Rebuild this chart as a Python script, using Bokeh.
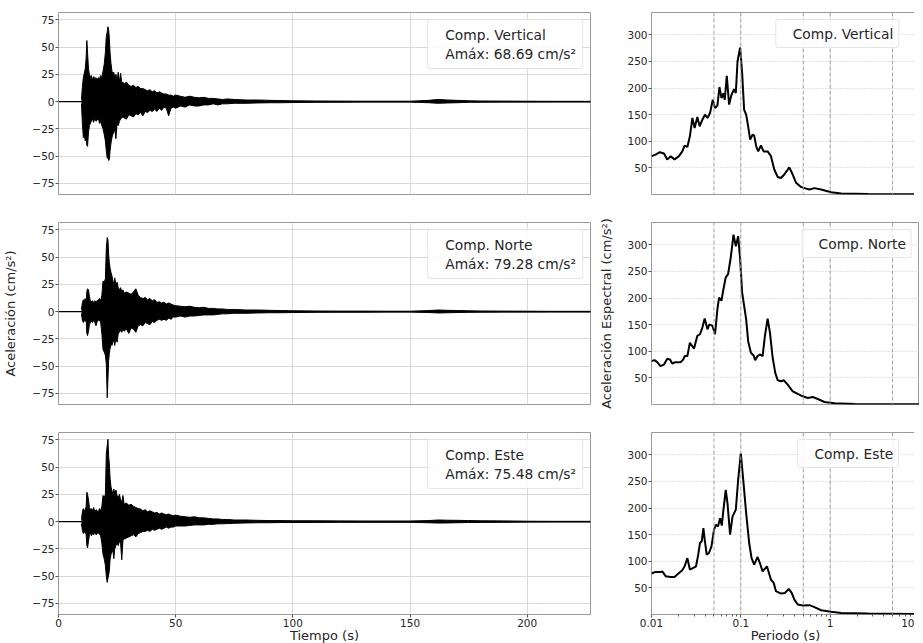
from bokeh.plotting import figure
from bokeh.layouts import row, column
from bokeh.models import Range1d, FixedTicker, Span, Legend, LegendItem
from bokeh.embed import file_html
from bokeh.resources import INLINE

# ---------------- data ----------------
components = ["Comp. Vertical", "Comp. Norte", "Comp. Este"]
peak_acc = [68.69, 79.28, 75.48]

# accelerogram envelopes (time in s, upper / lower peaks in cm/s2)
t_env = [9.8, 10.2, 10.6, 11.0, 11.4, 11.8, 12.1, 12.4, 12.8, 13.2,
         13.6, 14.0, 14.5, 15.0, 15.5, 16.0, 16.5, 17.0, 17.5, 18.0,
         18.5, 19.0, 19.5, 20.0, 20.4, 20.8, 21.1, 21.4, 21.7, 22.0,
         22.4, 22.8, 23.2, 23.6, 24.0, 24.5, 25.0, 25.5, 26.0, 26.5,
         27.0, 27.5, 28.0, 29, 30, 31, 32, 33, 34, 35,
         36, 37, 38, 39, 40, 41, 42, 43, 44, 45,
         46, 47, 48, 49, 50, 52, 54, 56, 58, 60,
         62, 64, 66, 68, 70, 72, 75, 80, 85, 90,
         95, 100, 110, 120, 130, 140, 150, 158, 162, 166,
         170, 175, 180, 190, 200, 210, 220, 227]

up_V = [2, 14, 22, 26, 30, 40, 56, 45, 30, 25,
        22, 24, 20, 23, 21, 22, 20, 22, 21, 24,
        22, 28, 34, 45, 60, 64, 68.7, 66, 58, 45,
        35, 28, 26, 27, 22, 25, 20, 27, 18, 26,
        17, 18, 16, 18, 15, 14, 15, 13, 14, 12,
        12, 11, 10, 11, 9, 10, 8, 9, 8, 7,
        7, 6, 6, 5, 6, 5, 4, 5, 4, 3.5,
        4, 3, 3, 2.5, 2, 2.5, 2, 1.5, 1.5, 1.2,
        1, 0.8, 0.6, 0.5, 0.4, 0.4, 0.4, 1.2, 2, 1.5,
        1.2, 0.8, 0.6, 0.5, 0.4, 0.3, 0.3, 0.3]
lo_V = [-2, -20, -33, -30, -36, -34, -40, -41, -28, -22,
        -20, -18, -16, -19, -15, -18, -17, -15, -20, -18,
        -22, -25, -30, -36, -45, -52, -50, -54, -53, -45,
        -38, -33, -30, -28, -25, -34, -20, -22, -18, -16,
        -15, -14, -15, -16, -12, -13, -14, -11, -12, -10,
        -13, -9, -10, -8, -9, -7, -9, -6, -8, -5,
        -6, -13, -6, -5, -6, -4, -5, -3, -4, -4,
        -3, -3, -2, -3, -2, -2, -1.5, -1.5, -1.2, -1,
        -1, -0.8, -0.6, -0.5, -0.4, -0.4, -0.4, -1, -1.5, -1.2,
        -1, -0.6, -0.5, -0.4, -0.4, -0.3, -0.3, -0.3]

up_N = [2, 8, 11, 10, 12, 9, 18, 21, 20, 14,
        10, 9, 10, 8, 10, 9, 10, 11, 12, 10,
        15, 28, 27, 30, 58, 68, 66, 52, 45, 40,
        36, 33, 28, 26, 31, 25, 27, 22, 20, 22,
        18, 20, 17, 18, 17, 16, 18, 21, 15, 13,
        12, 13, 11, 12, 10, 11, 8.5, 9, 8, 8.5,
        7, 8, 7, 6, 5.5, 5, 4.5, 5, 4, 3.5,
        4, 3, 3, 2.5, 2.5, 2, 2, 1.5, 1.5, 1.2,
        1, 0.8, 0.6, 0.5, 0.5, 0.4, 0.4, 1, 1.5, 1.2,
        1, 0.8, 0.6, 0.5, 0.4, 0.3, 0.3, 0.3]
lo_N = [-2, -8, -10, -8, -9, -7, -20, -22, -18, -12,
        -10, -9, -10, -8, -10, -13, -9, -8, -8, -10,
        -20, -35, -37, -40, -48, -79, -62, -45, -38, -34,
        -30, -31, -28, -26, -31, -24, -28, -20, -19, -17,
        -19, -16, -18, -16, -20, -15, -16, -19, -13, -12,
        -13, -10, -11, -12, -9, -10, -8, -7, -8, -7,
        -8, -6, -7, -5, -5, -4, -5, -4, -4, -3.5,
        -3, -3, -3, -2.5, -2, -2, -1.5, -1.5, -1.2, -1,
        -1, -0.8, -0.6, -0.5, -0.5, -0.4, -0.4, -0.8, -1.2, -1,
        -0.8, -0.6, -0.5, -0.4, -0.4, -0.3, -0.3, -0.3]

up_E = [2, 9, 12, 10, 11, 14, 27, 25, 20, 13,
        11, 12, 10, 13, 9, 11, 10, 9, 12, 10,
        14, 24, 22, 25, 62, 70, 75.5, 60, 53, 40,
        32, 28, 27, 30, 26, 29, 24, 22, 25, 20,
        18, 24, 16, 17, 15, 16, 14, 13, 12, 11.6,
        10, 11, 9, 10, 9, 8, 8.5, 7, 8, 7,
        6.5, 7, 6, 5.5, 6, 5, 4.5, 4, 4.5, 3.5,
        3.5, 3, 2.5, 2.5, 2, 2, 1.5, 1.5, 1.2, 1,
        1, 0.8, 0.8, 0.7, 0.6, 0.6, 0.6, 1, 1.5, 1.3,
        1.2, 1, 0.8, 0.7, 0.4, 0.3, 0.3, 0.3]
lo_E = [-2, -8, -11, -10, -9, -12, -22, -24, -18, -12,
        -10, -13, -11, -12, -10, -12, -11, -10, -12, -13,
        -20, -30, -34, -40, -50, -55.7, -52, -49, -45, -35,
        -30, -28, -26, -34, -25, -22, -20, -22, -18, -20,
        -35, -17, -16, -15, -14, -13, -12, -14, -11, -10,
        -9, -9, -8, -9, -7, -8, -7, -6, -7, -6,
        -5, -6, -5, -5, -4, -4, -4, -3.5, -3, -3,
        -3, -2.5, -2.5, -2, -2, -1.8, -1.5, -1.2, -1, -1,
        -0.8, -0.8, -0.7, -0.6, -0.6, -0.6, -0.6, -1, -1.3, -1.2,
        -1, -0.8, -0.7, -0.6, -0.4, -0.3, -0.3, -0.3]

# response spectra (period in s, spectral acceleration in cm/s2)
T_V = [0.0100, 0.0111, 0.0124, 0.0138, 0.0150, 0.0164, 0.0181, 0.0203, 0.0221, 0.0235,
       0.0252, 0.0269, 0.0287, 0.0304, 0.0326, 0.0346, 0.0371, 0.0397, 0.0423, 0.0452,
       0.0485, 0.0514, 0.0547, 0.0576, 0.0607, 0.0639, 0.0661, 0.0696, 0.0739, 0.0786,
       0.0841, 0.0879, 0.0918, 0.0982, 0.1034, 0.1089, 0.1147, 0.1208, 0.1272, 0.1354,
       0.1411, 0.1486, 0.1564, 0.1678, 0.1799, 0.1995, 0.2174, 0.2367, 0.2584, 0.2814,
       0.3066, 0.3489, 0.381, 0.415, 0.472, 0.5375, 0.5855, 0.666, 0.792, 1.026,
       1.329, 2.652, 10.0]
Sa_V = [72, 75, 79.4, 77, 65.6, 72, 66, 72, 81, 92,
        89.4, 109.4, 143.8, 125, 145.6, 128, 140.6, 150, 143.8, 153,
        178, 162.5, 167, 202, 181, 190.6, 178, 223, 169, 187.5,
        198, 190.6, 250, 276, 228, 159, 150, 128, 103, 112.5,
        110.6, 90.6, 81, 92, 81, 81, 72, 47, 33, 31,
        37.5, 51, 37.5, 22, 14, 11, 9.4, 12, 9.4, 4.4,
        2, 1, 0.5]

T_N = [0.0100, 0.0108, 0.0116, 0.0126, 0.0138, 0.0150, 0.0161, 0.0171, 0.0186, 0.0212,
       0.0227, 0.0235, 0.0252, 0.0269, 0.0299, 0.0326, 0.0349, 0.0371, 0.0394, 0.0423,
       0.0445, 0.0481, 0.0514, 0.0547, 0.0570, 0.0607, 0.0639, 0.0678, 0.0720, 0.0772,
       0.0828, 0.0879, 0.0933, 0.0982, 0.1034, 0.1089, 0.1147, 0.1208, 0.1296, 0.1389,
       0.1448, 0.1540, 0.1648, 0.1753, 0.1861, 0.1995, 0.2118, 0.2272, 0.2429, 0.2584,
       0.2814, 0.3019, 0.3347, 0.381, 0.4337, 0.4935, 0.5617, 0.6391, 0.7274, 0.863,
       1.118, 1.875, 10.0]
Sa_N = [81.5, 83.4, 79.6, 72, 75, 86, 84.6, 77, 79.6, 79.6,
        84.6, 91, 91, 116, 105, 129, 132, 144.5, 161.5, 141.3,
        150.8, 147.6, 132, 179, 201, 195, 217, 239, 245, 276.7,
        319, 297.5, 316.4, 273.6, 210.6, 185.4, 160, 119, 97.2, 92.2,
        83.4, 91, 94, 91, 129, 161.5, 135, 87.8, 59.5, 45.6,
        43.7, 45.6, 37.4, 24.8, 19.8, 15.4, 12.2, 14, 10.3, 4.7,
        2.2, 1, 0.5]

T_E = [0.0100, 0.0111, 0.0126, 0.0132, 0.0144, 0.0164, 0.0181, 0.0203, 0.0221, 0.0235,
       0.0252, 0.0269, 0.0294, 0.0315, 0.0331, 0.0349, 0.0365, 0.0381, 0.0394, 0.0415,
       0.0440, 0.0469, 0.0501, 0.0528, 0.0556, 0.0585, 0.0612, 0.0639, 0.0678, 0.0709,
       0.0758, 0.0807, 0.0879, 0.0933, 0.1000, 0.1072, 0.1147, 0.1240, 0.1319, 0.1411,
       0.1540, 0.1648, 0.1753, 0.1960, 0.2174, 0.2331, 0.2473, 0.2814, 0.3122, 0.3436,
       0.3713, 0.3971, 0.4337, 0.4935, 0.5855, 0.6662, 0.7922, 1.026, 1.329, 2.652,
       10.0]
Sa_E = [77, 80, 80, 81, 72, 70.6, 70.6, 78, 83, 90.6,
        106, 84.4, 87.5, 90.6, 109.4, 134.4, 137.5, 162.5, 140.6, 112.5,
        115.6, 128, 159.4, 168.8, 165.6, 181, 167, 197, 234.4, 209,
        150, 184, 197, 253, 303, 247, 190.6, 134.4, 106, 93.8,
        108, 95, 81, 90.6, 65.6, 59.4, 43.8, 39.4, 40.6, 48,
        40.6, 28, 18.8, 16.9, 17.5, 13.8, 8, 5, 3, 1.9,
        1]

time_ticks = [0, 50, 100, 150, 200]
acc_ticks = [-75, -50, -25, 0, 25, 50, 75]
spec_ticks = [50, 100, 150, 200, 250, 300]
period_ticks = [0.01, 0.1, 1, 10]
period_labels = ["0.01", "0.1", "1", "10"]
marker_periods = [0.05, 0.1, 0.5, 1, 5]

envelopes = [(up_V, lo_V), (up_N, lo_N), (up_E, lo_E)]
spectra = [(T_V, Sa_V), (T_N, Sa_N), (T_E, Sa_E)]

# ---------------- styling ----------------
FONT = "DejaVu Sans"
TXT = "#262626"
TICK_FS = "10.5px"
LABEL_FS = "13px"
LEG_FS = "13.8px"
FRAME_H = 182
TOPS = [12, 14, 14]
BOTTOMS = [14, 14, 0]


def style_axes(p, show_x):
    for ax in p.xaxis + p.yaxis:
        ax.axis_line_color = None
        ax.major_tick_line_color = "#555555"
        ax.major_tick_out = 3
        ax.major_tick_in = 0
        ax.minor_tick_line_color = None
        ax.major_label_text_font = FONT
        ax.major_label_text_font_size = TICK_FS
        ax.major_label_text_color = TXT
        ax.major_label_standoff = 1
        ax.axis_label_text_font = FONT
        ax.axis_label_text_font_size = LABEL_FS
        ax.axis_label_text_font_style = "normal"
        ax.axis_label_text_color = TXT
    p.xaxis.visible = show_x
    p.outline_line_color = "#9a9a9a"
    p.outline_line_width = 1
    p.background_fill_color = "white"
    p.border_fill_color = "white"


def make_legend(p, labels, pad):
    dummy = p.line(x=[], y=[], line_alpha=0)
    items = [LegendItem(label=s, renderers=[dummy]) for s in labels]
    leg = Legend(items=items, location="top_right")
    leg.label_text_font = FONT
    leg.label_text_font_size = LEG_FS
    leg.label_text_color = TXT
    leg.glyph_width = 5
    leg.glyph_height = 17
    leg.label_height = 17
    leg.label_standoff = 6
    leg.spacing = 2
    leg.padding = pad
    leg.margin = 7
    leg.border_line_color = "#cccccc"
    leg.border_line_width = 1
    leg.background_fill_color = "white"
    leg.background_fill_alpha = 0.85
    leg.inactive_fill_alpha = 0
    if "border_radius" in Legend.properties():
        leg.border_radius = 3
    p.add_layout(leg)


left_figs, right_figs = [], []
for i in range(3):
    last = i == 2
    # --- accelerogram ---
    p = figure(frame_width=532, frame_height=FRAME_H,
               x_range=Range1d(0, 227), y_range=Range1d(-85.2, 81.8),
               output_backend="svg", toolbar_location=None,
               min_border_left=57, min_border_right=6,
               min_border_top=TOPS[i], min_border_bottom=BOTTOMS[i])
    style_axes(p, last)
    p.xaxis.ticker = FixedTicker(ticks=time_ticks)
    p.yaxis.ticker = FixedTicker(ticks=acc_ticks)
    p.xgrid.ticker = FixedTicker(ticks=time_ticks)
    p.ygrid.ticker = FixedTicker(ticks=acc_ticks)
    for g in (p.xgrid, p.ygrid):
        g.grid_line_color = "#d9d9d9"
        g.grid_line_width = 1
    if last:
        p.xaxis.axis_label = "Tiempo (s)"
        p.xaxis.axis_label_standoff = -2
    if i == 1:
        p.yaxis.axis_label = "Aceleración (cm/s²)"
        p.yaxis.axis_label_standoff = 11
    p.add_layout(Span(location=0, dimension="width", line_color="black", line_width=1.2))
    up, lo = envelopes[i]
    p.varea(x=t_env, y1=lo, y2=up, fill_color="black")
    p.line(x=t_env, y=up, line_color="black", line_width=1)
    p.line(x=t_env, y=lo, line_color="black", line_width=1)
    make_legend(p, [components[i], f"Amáx: {peak_acc[i]:.2f} cm/s²"], 6)
    left_figs.append(p)

    # --- response spectrum ---
    q = figure(frame_width=268, frame_height=FRAME_H, x_axis_type="log",
               x_range=Range1d(0.01, 10), y_range=Range1d(0, 342),
               output_backend="svg", toolbar_location=None,
               min_border_left=50, min_border_right=0,
               min_border_top=TOPS[i], min_border_bottom=BOTTOMS[i])
    style_axes(q, last)
    minor = [k * d for d in (0.01, 0.1, 1) for k in range(2, 10)]
    q.xaxis.ticker = FixedTicker(ticks=period_ticks, minor_ticks=minor)
    q.xaxis.major_label_overrides = {t: s for t, s in zip(period_ticks, period_labels)}
    q.xaxis.minor_tick_line_color = "#555555"
    q.xaxis.minor_tick_out = 2
    q.xaxis.minor_tick_in = 0
    q.yaxis.ticker = FixedTicker(ticks=spec_ticks)
    q.xgrid.ticker = FixedTicker(ticks=period_ticks)
    q.ygrid.ticker = FixedTicker(ticks=spec_ticks)
    for g in (q.xgrid, q.ygrid):
        g.grid_line_color = "#c8c8c8"
        g.grid_line_width = 1
        g.grid_line_dash = "1 2"
    for mp in marker_periods:
        q.add_layout(Span(location=mp, dimension="height", line_color="#a0a0a0",
                          line_width=1, line_dash="4 2"))
    if last:
        q.xaxis.axis_label = "Periodo (s)"
        q.xaxis.axis_label_standoff = -2
    if i == 1:
        q.yaxis.axis_label = "Aceleración Espectral (cm/s²)"
        q.yaxis.axis_label_standoff = 10
    T, Sa = spectra[i]
    q.line(x=T, y=Sa, line_color="black", line_width=2)
    make_legend(q, [components[i]], 5)
    right_figs.append(q)

layout = row(column(*left_figs), column(*right_figs))
open("out.html", "w").write(file_html(layout, INLINE))
